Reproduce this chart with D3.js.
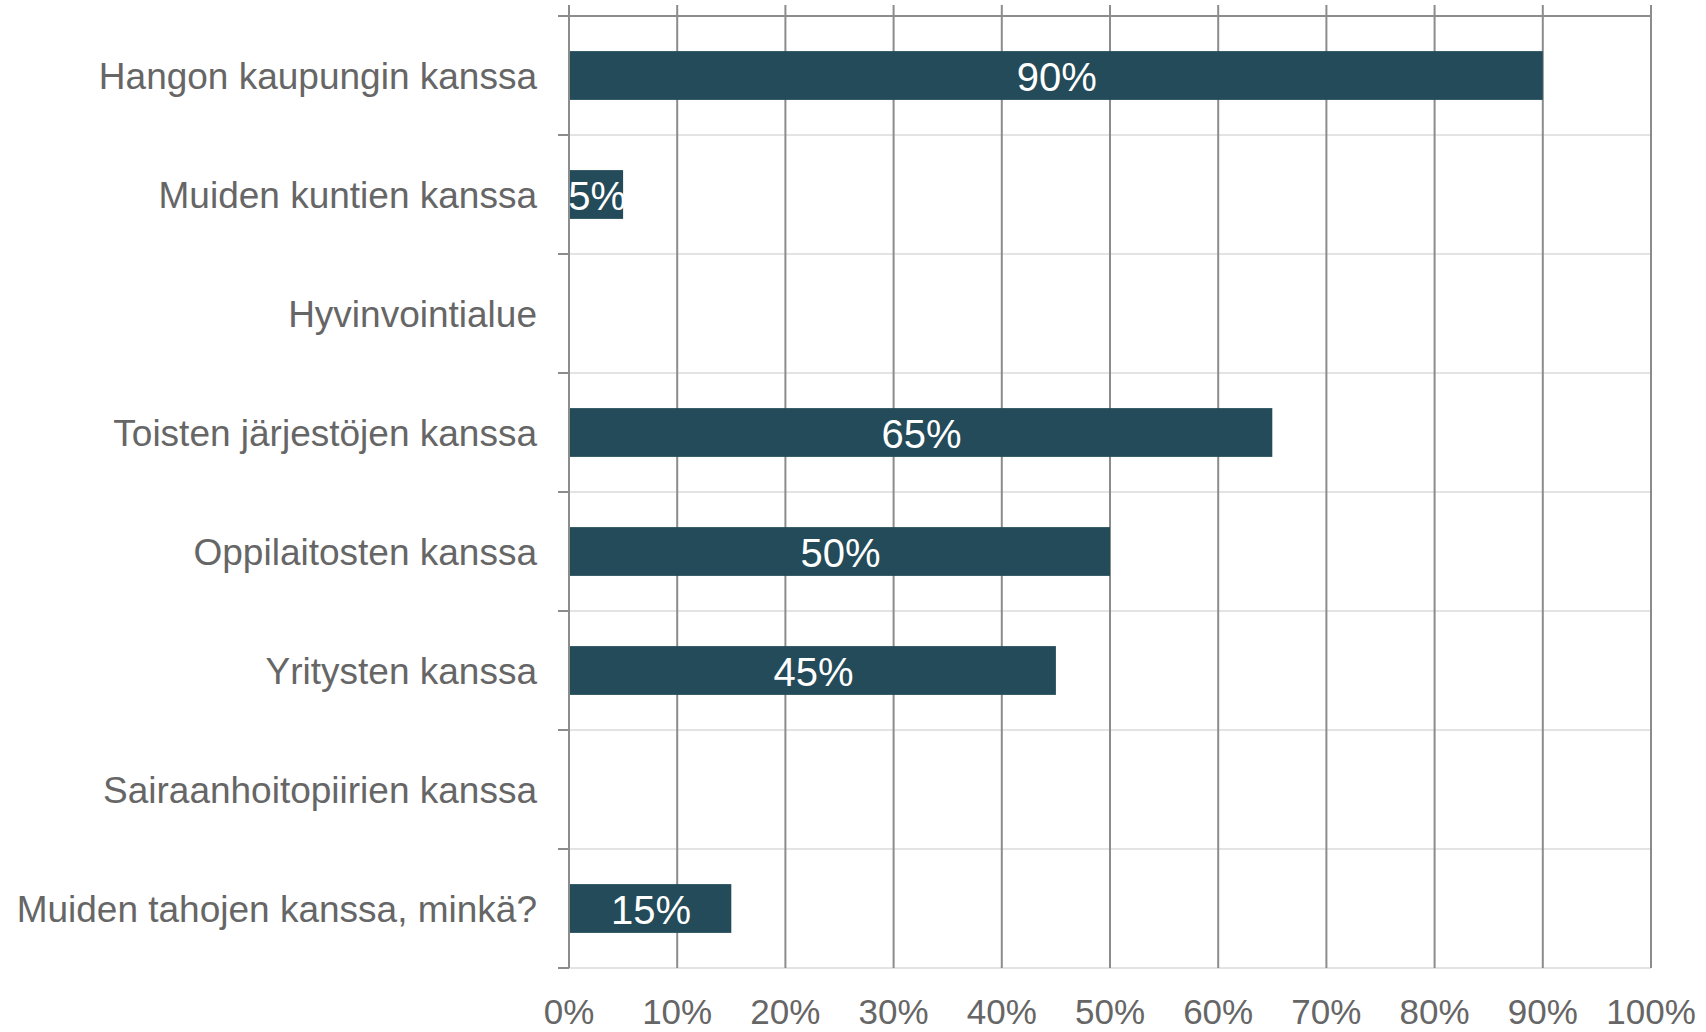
<!DOCTYPE html>
<html><head><meta charset="utf-8">
<script src="https://cdn.jsdelivr.net/npm/d3@7"></script>
<style>body{margin:0;background:#fff;} text{font-family:"Liberation Sans",Arial,sans-serif;}</style>
</head><body>
<svg id="chart" width="1706" height="1032"></svg>
<script>
const categories = ["Hangon kaupungin kanssa","Muiden kuntien kanssa","Hyvinvointialue","Toisten järjestöjen kanssa","Oppilaitosten kanssa","Yritysten kanssa","Sairaanhoitopiirien kanssa","Muiden tahojen kanssa, minkä?"];
const values = [90, 5, 0, 65, 50, 45, 0, 15];
const tickValues = [0,10,20,30,40,50,60,70,80,90,100];

(function(){
const svg = d3.select("#chart");
const pLeft = 569, pRight = 1651, pTop = 16, pBottom = 968;
const x = d3.scaleLinear().domain([0,100]).range([pLeft,pRight]);
const y = d3.scaleBand().domain(categories).range([pTop,pBottom]).paddingInner(0.59).paddingOuter(0.295);
const data = categories.map((c,i)=>({c, v: values[i]}));

const step = (pBottom-pTop)/categories.length;
const bounds = d3.range(categories.length+1).map(i=> pTop + i*step);
svg.append("g").selectAll("line").data(bounds.slice(1)).join("line")
  .attr("x1", pLeft).attr("x2", pRight).attr("y1", d=>d).attr("y2", d=>d)
  .attr("stroke","#e3e3e3").attr("stroke-width",2);
svg.append("g").selectAll("line").data(bounds).join("line")
  .attr("x1", pLeft-11).attr("x2", pLeft).attr("y1", d=>d).attr("y2", d=>d)
  .attr("stroke","#8c8c8c").attr("stroke-width",2);
svg.append("line").attr("x1", pLeft-11).attr("x2", pRight).attr("y1", pTop).attr("y2", pTop)
  .attr("stroke","#8c8c8c").attr("stroke-width",2);
svg.append("g").selectAll("line").data(tickValues).join("line")
  .attr("x1", d=>x(d)).attr("x2", d=>x(d)).attr("y1", 5).attr("y2", pBottom)
  .attr("stroke","#8c8c8c").attr("stroke-width",2);

svg.append("g").selectAll("rect").data(data.filter(d=>d.v>0)).join("rect")
  .attr("x", x(0)+1).attr("y", d=>y(d.c))
  .attr("width", d=>x(d.v)-x(0)-1).attr("height", y.bandwidth())
  .attr("fill","#234b59");

svg.append("g").selectAll("text").data(data.filter(d=>d.v>0)).join("text")
  .attr("x", d=>(x(0)+x(d.v))/2+1).attr("y", d=>y(d.c) + y.bandwidth()/2)
  .attr("dy","0.38em").attr("text-anchor","middle")
  .attr("font-size",40).attr("fill","#fff")
  .text(d=>d.v+"%");

svg.append("g").selectAll("text").data(categories).join("text")
  .attr("x", 537).attr("y", d=>y(d)+y.bandwidth()/2)
  .attr("dy","0.37em").attr("text-anchor","end")
  .attr("font-size",37).attr("fill","#666")
  .text(d=>d);

svg.append("g").selectAll("text").data(tickValues).join("text")
  .attr("x", d=>x(d)).attr("y", 1024)
  .attr("text-anchor","middle").attr("font-size",35).attr("fill","#666")
  .text(d=>d+"%");
})();
</script>
</body></html>
